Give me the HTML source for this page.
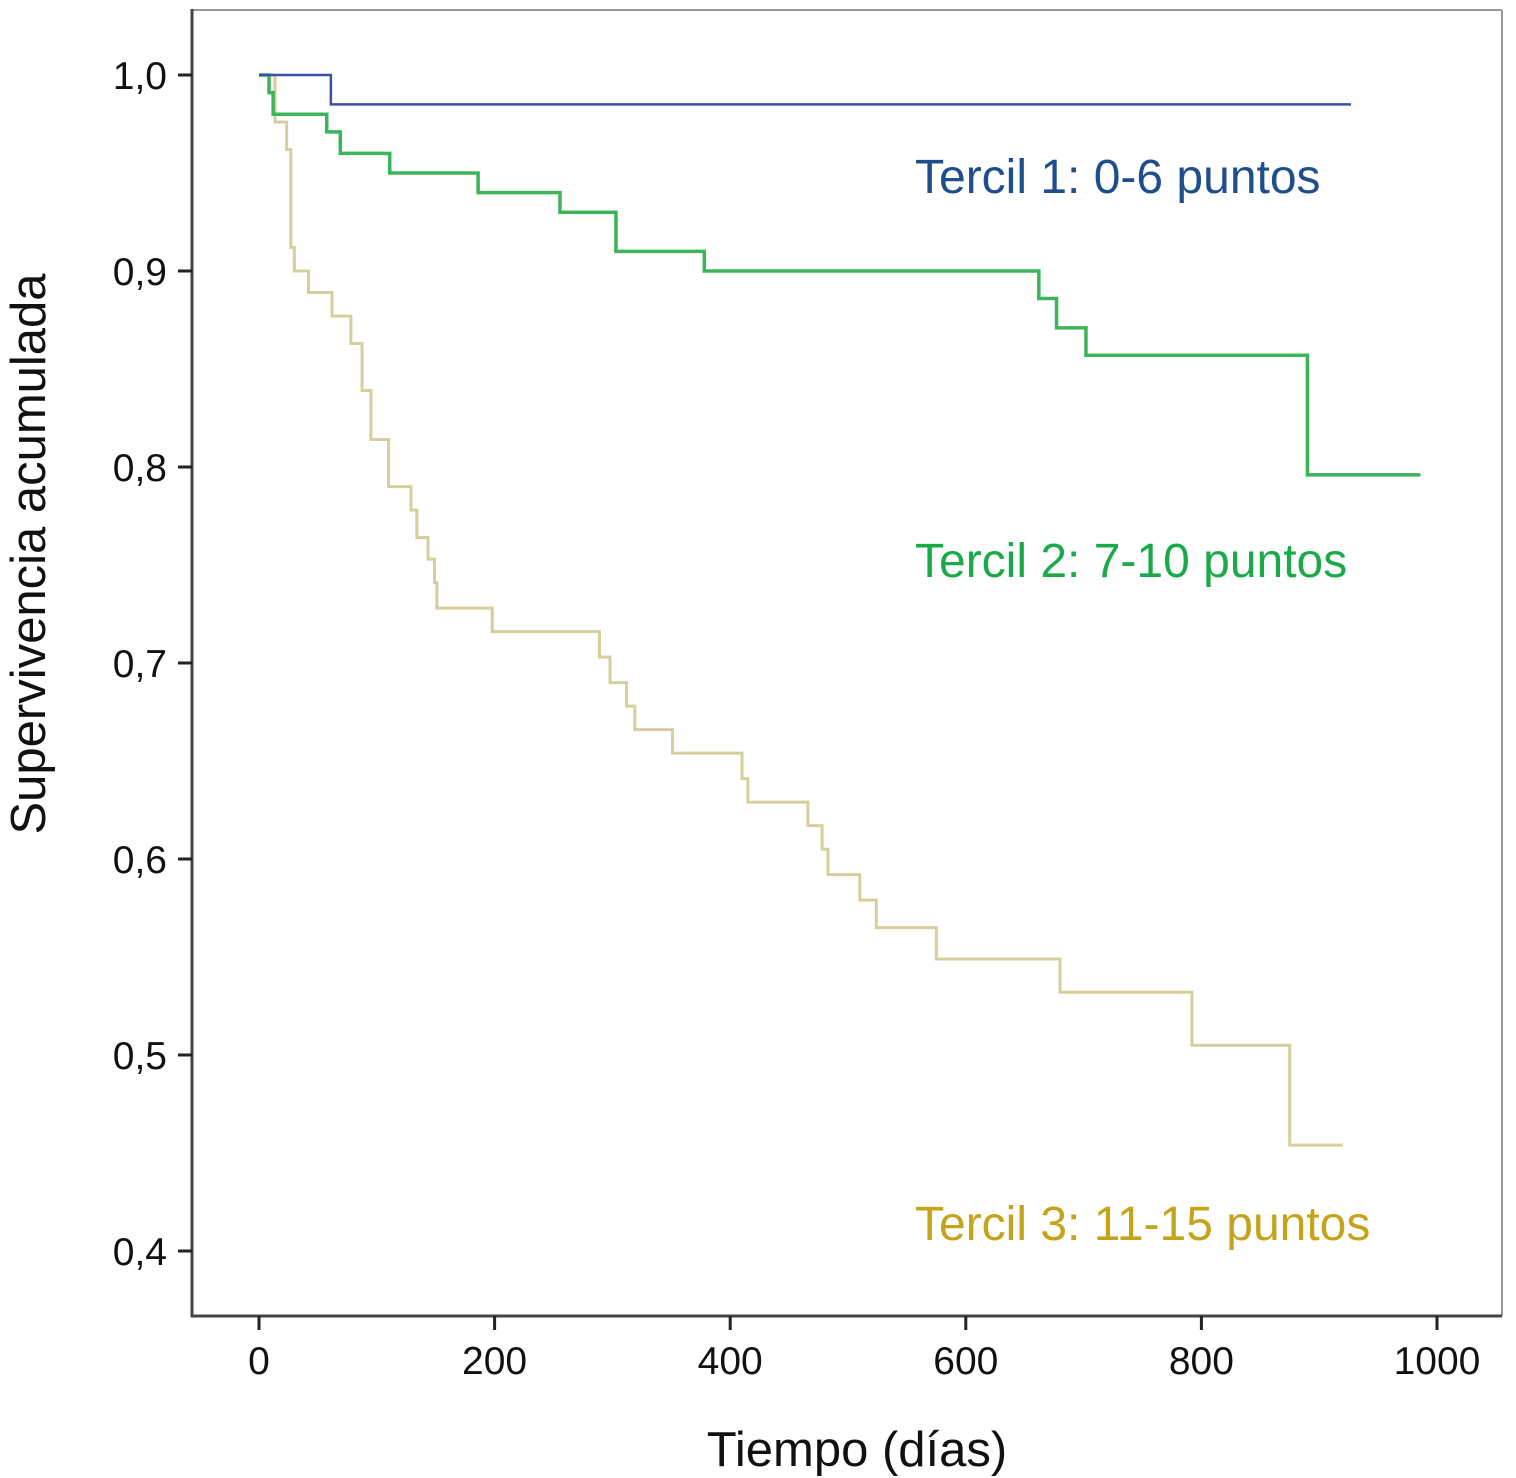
<!DOCTYPE html>
<html><head><meta charset="utf-8"><style>
html,body{margin:0;padding:0;background:#fff;}
svg{display:block;font-family:"Liberation Sans",Arial,sans-serif;}
</style></head><body>
<svg id="chart" width="1516" height="1478" viewBox="0 0 1516 1478" xmlns="http://www.w3.org/2000/svg">
<rect width="1516" height="1478" fill="#fff"/>
<g id="frame">
<line x1="192" y1="10" x2="1502" y2="10" stroke="#9a9a9a" stroke-width="2"/>
<line x1="1502" y1="10" x2="1502" y2="1316" stroke="#9a9a9a" stroke-width="2"/>
<line x1="192" y1="9" x2="192" y2="1317" stroke="#444" stroke-width="3"/>
<line x1="191" y1="1316" x2="1502" y2="1316" stroke="#444" stroke-width="3"/>
</g>
<g id="yticks"></g>
<g id="xticks"></g>
<g id="series"></g>
<text transform="translate(45,554) rotate(-90)" text-anchor="middle" font-size="49" fill="#111">Supervivencia acumulada</text>
<text x="857" y="1466" text-anchor="middle" font-size="49" fill="#111">Tiempo (días)</text>
<text x="915" y="193" font-size="48" fill="#1f4e8c">Tercil 1: 0-6 puntos</text>
<text x="915" y="577" font-size="48" fill="#1aaa4a">Tercil 2: 7-10 puntos</text>
<text x="915" y="1240" font-size="48" fill="#c4a41a">Tercil 3: 11-15 puntos</text>
</svg>
<script>
const yTicks = [1.0, 0.9, 0.8, 0.7, 0.6, 0.5, 0.4];
const yTickLabels = ["1,0","0,9","0,8","0,7","0,6","0,5","0,4"];
const xTicks = [0, 200, 400, 600, 800, 1000];
const xTickLabels = ["0","200","400","600","800","1000"];

const t1Times = [61];
const t1Surv = [0.985];
const t1End = 927;

const t2Times = [8.5, 12, 57.5, 69, 111, 186, 255.5, 303, 378, 662, 677, 702, 890];
const t2Surv = [0.991, 0.980, 0.971, 0.960, 0.950, 0.940, 0.930, 0.910, 0.900, 0.886, 0.871, 0.857, 0.796];
const t2End = 986;

const t3Times = [13.6, 23.5, 27, 30, 42, 62, 78, 87.5, 95, 110, 129, 134, 143.5, 149, 151, 198, 289, 298, 312, 319, 351, 410, 415, 466, 478, 483, 510, 524, 575, 680, 792, 875];
const t3Surv = [0.976, 0.962, 0.912, 0.900, 0.889, 0.877, 0.863, 0.839, 0.814, 0.790, 0.778, 0.764, 0.753, 0.741, 0.728, 0.716, 0.703, 0.690, 0.678, 0.666, 0.654, 0.641, 0.629, 0.617, 0.605, 0.592, 0.579, 0.565, 0.549, 0.532, 0.505, 0.454];
const t3End = 920;

const NS = "http://www.w3.org/2000/svg";
function xs(d){ return 259 + d * (1437 - 259) / 1000; }
function ys(v){ return 75 + (1.0 - v) * 1960; }

const gy = document.getElementById('yticks');
yTicks.forEach((v, i) => {
  const l = document.createElementNS(NS, 'line');
  l.setAttribute('x1', 178); l.setAttribute('x2', 192);
  l.setAttribute('y1', ys(v)); l.setAttribute('y2', ys(v));
  l.setAttribute('stroke', '#222'); l.setAttribute('stroke-width', 3);
  
  
  gy.appendChild(l);
  const t = document.createElementNS(NS, 'text');
  t.setAttribute('x', 167); t.setAttribute('y', ys(v) + 14);
  t.setAttribute('text-anchor', 'end'); t.setAttribute('font-size', 39); t.setAttribute('fill', '#111');
  t.textContent = yTickLabels[i];
  
  
  gy.appendChild(t);
});
const gx = document.getElementById('xticks');
xTicks.forEach((d, i) => {
  const l = document.createElementNS(NS, 'line');
  l.setAttribute('x1', xs(d)); l.setAttribute('x2', xs(d));
  l.setAttribute('y1', 1316); l.setAttribute('y2', 1330);
  l.setAttribute('stroke', '#222'); l.setAttribute('stroke-width', 3);
  
  
  gx.appendChild(l);
  const t = document.createElementNS(NS, 'text');
  t.setAttribute('x', xs(d)); t.setAttribute('y', 1374);
  t.setAttribute('text-anchor', 'middle'); t.setAttribute('font-size', 39); t.setAttribute('fill', '#111');
  t.textContent = xTickLabels[i];
  
  
  gx.appendChild(t);
});

function stepPath(times, surv, end){
  let d = 'M' + xs(0) + ' ' + ys(1);
  for (let i = 0; i < times.length; i++){
    d += ' H' + xs(times[i]) + ' V' + ys(surv[i]);
  }
  d += ' H' + xs(end);
  return d;
}
const gs = document.getElementById('series');
function addSeries(times, surv, end, color, w, name){
  const p = document.createElementNS(NS, 'path');
  p.setAttribute('d', stepPath(times, surv, end));
  p.setAttribute('fill', 'none'); p.setAttribute('stroke', color); p.setAttribute('stroke-width', w);
  
  
  gs.appendChild(p);
}
addSeries(t3Times, t3Surv, t3End, '#d6cf9c', 3, 'curve-tercil-3');
addSeries(t2Times, t2Surv, t2End, '#3cb55a', 3.5, 'curve-tercil-2');
addSeries(t1Times, t1Surv, t1End, '#3c50aa', 2.5, 'curve-tercil-1');
</script>
</body></html>
